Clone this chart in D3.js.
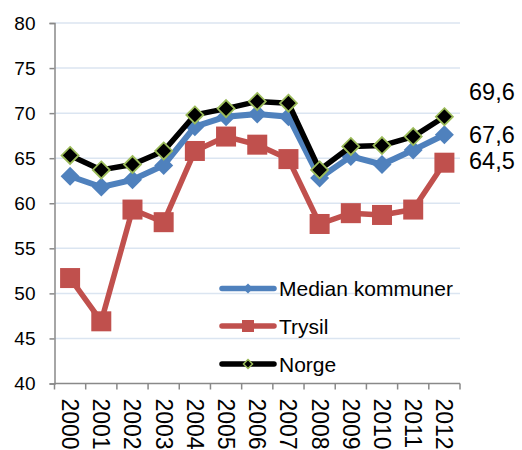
<!DOCTYPE html>
<html>
<head>
<meta charset="utf-8">
<script src="https://cdn.jsdelivr.net/npm/d3@7/dist/d3.min.js"></script>
<style>
  html, body { margin: 0; padding: 0; background: #fff; }
  svg { display: block; font-family: "Liberation Sans", Arial, sans-serif; }
</style>
</head>
<body>
<svg id="chart" width="522" height="450"></svg>
<script>
// Years on the category axis
const years = ["2000","2001","2002","2003","2004","2005","2006","2007","2008","2009","2010","2011","2012"];

// Series values per year
const medianKommuner = [63.0, 61.8, 62.6, 64.2, 68.5, 69.6, 69.9, 69.6, 62.8, 65.2, 64.3, 65.9, 67.6];
const trysil         = [51.7, 46.9, 59.3, 57.9, 65.8, 67.4, 66.5, 64.9, 57.7, 58.9, 58.7, 59.3, 64.5];
const norge          = [65.3, 63.7, 64.3, 65.8, 69.8, 70.5, 71.3, 71.1, 63.7, 66.3, 66.4, 67.4, 69.6];

// Y axis ticks
const yTicks = [40, 45, 50, 55, 60, 65, 70, 75, 80];

// Series names for the legend
const seriesNames = ["Median kommuner", "Trysil", "Norge"];

const svg = d3.select("#chart");

const plotLeft = 54.5, plotRight = 460, plotTop = 23, plotBottom = 383.5;

const x = d3.scaleBand().domain(years).range([plotLeft, plotRight]).paddingInner(0).paddingOuter(0);
const y = d3.scaleLinear().domain([40, 80]).range([plotBottom, plotTop]);
const cx = d => x(d) + x.bandwidth() / 2;

// Horizontal gridlines
svg.append("g").selectAll("line")
  .data(yTicks.filter(t => t > 40))
  .join("line")
  .attr("x1", plotLeft).attr("x2", plotRight)
  .attr("y1", d => y(d)).attr("y2", d => y(d))
  .attr("stroke", "#dbe5f1").attr("stroke-width", 1.5);

// Y axis
const yAxis = svg.append("g")
  .attr("transform", `translate(${plotLeft},0)`)
  .call(d3.axisLeft(y).tickValues(yTicks).tickSize(5).tickPadding(14).tickFormat(d3.format("d")));
yAxis.select(".domain").attr("stroke", "#898989").attr("stroke-width", 1.5);
yAxis.selectAll(".tick line").attr("stroke", "#898989").attr("stroke-width", 1.5);
yAxis.selectAll(".tick text").attr("font-size", 19).attr("fill", "#000")
  .attr("font-family", "'Liberation Sans', Arial, sans-serif");

// X axis: ticks on category boundaries
const xAxisG = svg.append("g");
xAxisG.append("line")
  .attr("x1", plotLeft).attr("x2", plotRight).attr("y1", plotBottom).attr("y2", plotBottom)
  .attr("stroke", "#898989").attr("stroke-width", 1.5);
xAxisG.selectAll("line.tk")
  .data(years.concat(["end"]))
  .join("line").attr("class", "tk")
  .attr("x1", (d, i) => i < years.length ? x(d) : plotRight)
  .attr("x2", (d, i) => i < years.length ? x(d) : plotRight)
  .attr("y1", plotBottom).attr("y2", plotBottom + 6)
  .attr("stroke", "#898989").attr("stroke-width", 1.5);
xAxisG.selectAll("text")
  .data(years)
  .join("text")
  .attr("transform", d => `translate(${cx(d)},${plotBottom + 15}) rotate(90)`)
  .attr("text-anchor", "start")
  .attr("dominant-baseline", "central")
  .attr("font-size", 23)
  .attr("fill", "#000")
  .text(d => d);

const line = d3.line().x((d, i) => cx(years[i])).y(d => y(d));
const diamond = (px, py, r) => `M${px},${py - r}L${px + r},${py}L${px},${py + r}L${px - r},${py}Z`;

// Trysil (red squares)
svg.append("path").datum(trysil)
  .attr("d", line).attr("fill", "none")
  .attr("stroke", "#c0504d").attr("stroke-width", 5.5).attr("stroke-linejoin", "round");
svg.append("g").selectAll("rect")
  .data(trysil).join("rect")
  .attr("x", (d, i) => cx(years[i]) - 10).attr("y", d => y(d) - 10)
  .attr("width", 20).attr("height", 20)
  .attr("fill", "#c0504d");

// Median kommuner (blue diamonds)
svg.append("path").datum(medianKommuner)
  .attr("d", line).attr("fill", "none")
  .attr("stroke", "#4f81bd").attr("stroke-width", 6).attr("stroke-linejoin", "round");
svg.append("g").selectAll("path")
  .data(medianKommuner).join("path")
  .attr("d", (d, i) => diamond(cx(years[i]), y(d), 9.5))
  .attr("fill", "#4f81bd");

// Norge (black diamonds with green outline)
svg.append("path").datum(norge)
  .attr("d", line).attr("fill", "none")
  .attr("stroke", "#000").attr("stroke-width", 5.5).attr("stroke-linejoin", "round");
svg.append("g").selectAll("path")
  .data(norge).join("path")
  .attr("d", (d, i) => diamond(cx(years[i]), y(d), 8.5))
  .attr("fill", "#000").attr("stroke", "#9bbb59").attr("stroke-width", 1.8);

// End-of-series value labels
const last = years.length - 1;
const endLabels = [
  { v: norge[last], dy: -25 },
  { v: medianKommuner[last], dy: 0 },
  { v: trysil[last], dy: -2 }
];
svg.append("g").selectAll("text")
  .data(endLabels).join("text")
  .attr("x", 469)
  .attr("y", d => y(d.v) + d.dy)
  .attr("dominant-baseline", "central")
  .attr("font-size", 23.5)
  .attr("fill", "#000")
  .text(d => d3.format(".1f")(d.v).replace(".", ","));

// Legend
const legendY = [288.5, 326, 364];
const lg = svg.append("g");
const colors = ["#4f81bd", "#c0504d", "#000"];
seriesNames.forEach((name, i) => {
  const gy = legendY[i];
  lg.append("line").attr("x1", 222).attr("x2", 274).attr("y1", gy).attr("y2", gy)
    .attr("stroke", colors[i]).attr("stroke-width", 5.5).attr("stroke-linecap", "round");
  if (i === 0) {
    lg.append("path").attr("d", diamond(248, gy, 5)).attr("fill", "#4f81bd");
  } else if (i === 1) {
    lg.append("rect").attr("x", 242).attr("y", gy - 6).attr("width", 12).attr("height", 12).attr("fill", "#c0504d");
  } else {
    lg.append("path").attr("d", diamond(248, gy, 4.5)).attr("fill", "#000")
      .attr("stroke", "#9bbb59").attr("stroke-width", 1.5);
  }
  lg.append("text").attr("x", 279).attr("y", gy)
    .attr("dominant-baseline", "central")
    .attr("font-size", 21).attr("fill", "#000")
    .text(name);
});
</script>
</body>
</html>
